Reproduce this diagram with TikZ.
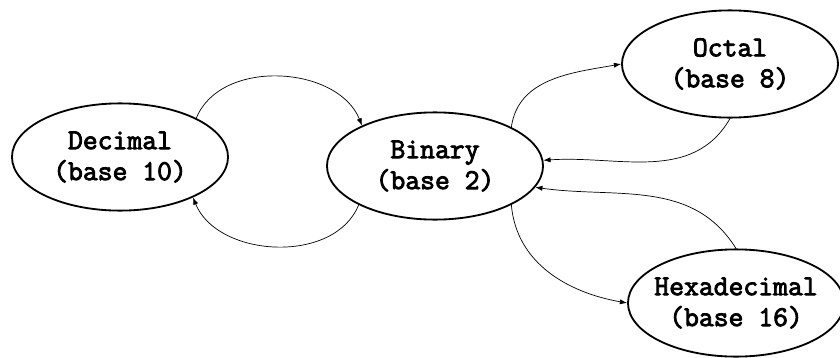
\documentclass[tikz,border=0pt]{standalone}
\usepackage{fontspec}
\setmonofont{Latin Modern Mono}[AutoFakeBold=3]
\usetikzlibrary{arrows.meta,shapes.geometric}

\begin{document}
\begin{tikzpicture}[x=0.025cm, y=0.025cm,
	base/.style={ellipse, draw, line width=1.3pt, minimum width=5.4cm, minimum height=2.68cm,
		inner xsep=-0.2cm, align=center, font=\ttfamily\bfseries\fontsize{20.5}{22}\selectfont},
	conv/.style={-{Latex[length=1.8mm,width=1.3mm]}, line width=0.5pt}]
	\useasboundingbox (0,0) rectangle (840,357);
	% the four number systems
	\node[base] (dec) at (120, 200) {Decimal\\(base 10)};
	\node[base] (bin) at (435, 191) {Binary\\(base 2)};
	\node[base] (oct) at (730, 293) {Octal\\(base 8)};
	\node[base] (hex) at (736, 54) {Hexadecimal\\(base 16)};
	% conversions to and from binary
	\draw[conv] (dec.27) to[out=68, in=112] (bin.151);
	\draw[conv] (bin.207) to[out=-112, in=-68] (dec.331);
	\draw[conv] (bin.27) to[out=82, in=190] (oct.west);
	\draw[conv] (oct.south) to[out=-120, in=4] (bin.3);
	\draw[conv] (hex.north) to[out=122, in=-8] (bin.348);
	\draw[conv] (bin.333) to[out=-85, in=170] (hex.west);
\end{tikzpicture}
\end{document}
